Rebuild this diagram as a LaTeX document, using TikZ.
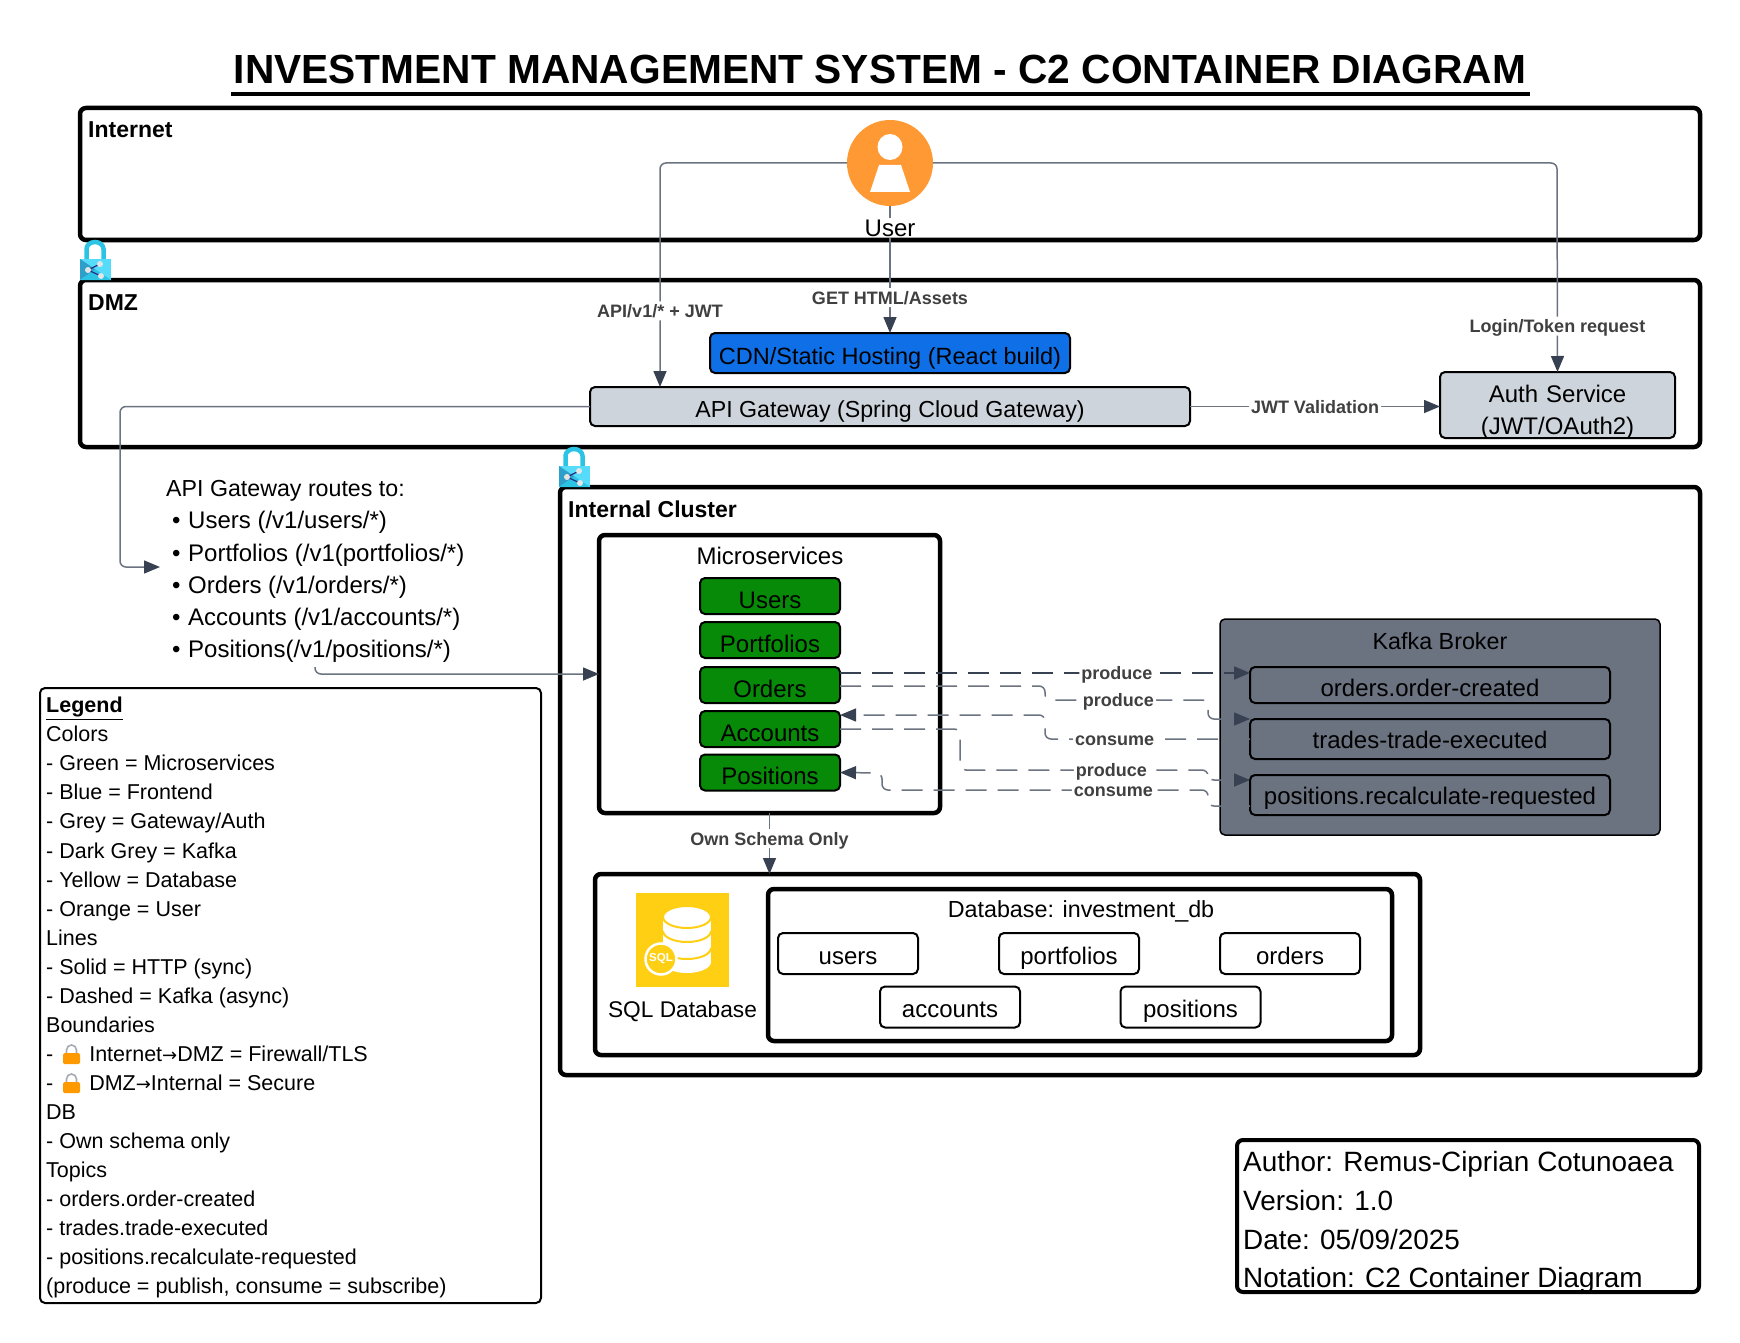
\documentclass[tikz,border=0pt]{standalone}
\usepackage{xcolor}
\usepackage{fontspec}
\setmainfont{Liberation Sans}
\newfontfamily\arrowfont{DejaVu Sans}
\usepackage{tikz}
\usetikzlibrary{shapes,arrows.meta,positioning}

\definecolor{linegrey}{HTML}{6B7280}
\definecolor{tipgrey}{HTML}{374151}
\definecolor{gategrey}{HTML}{CED4DC}
\definecolor{cdnblue}{HTML}{0F6FE6}
\definecolor{svcgreen}{HTML}{078A07}
\definecolor{sqlyellow}{HTML}{FFCF14}
\definecolor{userorange}{HTML}{FF9933}
\definecolor{lockcyan}{HTML}{2CC4E4}
\definecolor{locklight}{HTML}{55DCFA}
\definecolor{lockdark}{HTML}{2E9FC8}

% one lock of the boundary, x y = top left corner
\newcommand{\lockicon}[2]{
  \begin{scope}[shift={(#1,#2)}]
    \draw [line width=4.5pt, color=lockcyan] (6.5,19) -- (6.5,9) arc[start angle=180, end angle=0, x radius=8.5pt, y radius=7pt] -- (23.5,19);
    \fill [locklight] (0,19) rectangle (31,40);
    \fill [lockdark] (0,19) -- (15.5,29.5) -- (0,40) -- cycle;
    \fill [lockcyan] (0,40) -- (15.5,29.5) -- (31,40) -- cycle;
    \draw [tipgrey!70!blue, line width=1.2pt] (8,30) -- (20,24) (8,30) -- (21,36);
    \fill [white!90!black] (8,30) circle (3) (20,24) circle (3) (21,36) circle (3);
  \end{scope}
}
% small orange lock of the legend
\newcommand{\legendlock}[2]{
  \draw [linegrey!60, line width=1.6pt] (#1+3.5,#2+10) -- (#1+3.5,#2+6) arc[start angle=180, end angle=0, x radius=5pt, y radius=5pt] -- (#1+13.5,#2+10);
  \fill [orange!80!yellow, rounded corners=1.5pt] (#1,#2+9) rectangle (#1+17,#2+20);
}

\begin{document}
\begin{tikzpicture}[x=1pt, y=-1pt]
% Define styles
\tikzstyle{zone} = [rectangle, rounded corners=6pt, draw=black, line width=4.5pt, anchor=north west, outer sep=0pt]
\tikzstyle{zonetitle} = [font=\fontsize{23}{27}\selectfont\bfseries, anchor=base west, inner sep=0pt]
\tikzstyle{plain} = [font=\fontsize{23.3}{29}\selectfont, inner sep=0pt]
\tikzstyle{box} = [rectangle, rounded corners=5pt, draw=black, line width=2pt, font=\fontsize{24}{32}\selectfont, inner sep=0pt, outer sep=0pt, text height=24pt, text depth=2pt, text centered]
\tikzstyle{gate} = [box, fill=gategrey]
\tikzstyle{svc} = [box, fill=svcgreen, minimum width=140pt, minimum height=36pt, text height=26pt]
\tikzstyle{topic} = [box, minimum width=360pt, text height=21pt]
\tikzstyle{dbtable} = [box, minimum width=140pt, minimum height=41pt]
\tikzstyle{edgelabel} = [fill=white, font=\fontsize{18}{20}\selectfont\bfseries, text=black!75, inner sep=2pt, text height=14pt, text depth=1pt]
\tikzstyle{arrow} = [draw=linegrey, line width=1.5pt, rounded corners=6pt, -{Stealth[length=16pt, width=13pt, inset=0pt, color=tipgrey]}]
\tikzstyle{plainline} = [draw=linegrey, line width=1.5pt, rounded corners=6pt]
\tikzstyle{kafka} = [arrow, dash pattern=on 21pt off 11pt]

\useasboundingbox (0,0) rectangle (1740,1343);

% Title
\node (title) [font=\fontsize{40.7}{44}\selectfont\bfseries, inner sep=0pt, anchor=base] at (880,84) {INVESTMENT MANAGEMENT SYSTEM - C2 CONTAINER DIAGRAM};
\draw [line width=4pt] (231,94) -- (1530,94);

% Zones
\node (internet) [zone, minimum width=1620pt, minimum height=132pt] at (80,108) {};
\node (dmz) [zone, minimum width=1620pt, minimum height=167pt] at (80,280) {};
\node (cluster) [zone, minimum width=1140pt, minimum height=588pt] at (560,487) {};
\node (internettitle) [zonetitle] at (88,138) {Internet};
\node (dmztitle) [zonetitle] at (88,310) {DMZ};
\node (clustertitle) [zonetitle] at (568,517) {Internal Cluster};
\lockicon{80}{240}
\lockicon{559}{447}

% User
\node (user) [circle, fill=userorange, minimum size=86pt, inner sep=0pt, outer sep=0pt] at (890,163) {};
\fill [white] (890,147) ellipse (12.5 and 13);
\fill [white] (879,165) -- (901,165) -- (910,192) -- (870,192) -- cycle;
\node (userlabel) [plain, fill=white, inner sep=1pt, font=\fontsize{24}{29}\selectfont] at (890,228) {User};

% DMZ nodes
\node (cdn) [box, fill=cdnblue, minimum width=360pt, minimum height=40pt, font=\fontsize{23.5}{32}\selectfont] at (890,353) {CDN/Static Hosting (React build)};
\node (apigw) [gate, minimum width=600pt, minimum height=39pt, font=\fontsize{23.2}{32}\selectfont] at (890,406.5) {API Gateway (Spring Cloud Gateway)};
\node (auth) [gate, minimum width=235pt, minimum height=66pt, text width=235pt, align=center, text depth=30pt] at (1557.5,405) {Auth Service\\(JWT/OAuth2)};

% Routes text
\node (routes) [plain, anchor=north west, align=left, font=\fontsize{24}{32.3}\selectfont] at (166,480) {{\fontsize{23.2}{32.3}\selectfont API Gateway routes to:}\\
\hspace*{6pt}\makebox[16pt][l]{\textbullet}Users (/v1/users/*)\\
\hspace*{6pt}\makebox[16pt][l]{\textbullet}Portfolios (/v1(portfolios/*)\\
\hspace*{6pt}\makebox[16pt][l]{\textbullet}Orders (/v1/orders/*)\\
\hspace*{6pt}\makebox[16pt][l]{\textbullet}Accounts (/v1/accounts/*)\\
\hspace*{6pt}\makebox[16pt][l]{\textbullet}Positions(/v1/positions/*)};
\coordinate (routesin) at (160,567);
\coordinate (routesout) at (315,667);

% Microservices
\node (msbox) [zone, minimum width=341pt, minimum height=278pt] at (599,535) {};
\node (mstitle) [plain, font=\fontsize{24}{29}\selectfont] at (770,556) {Microservices};
\node (users) [svc] at (770,596) {Users};
\node (portfolios) [svc] at (770,640) {Portfolios};
\node (orders) [svc] at (770,685) {Orders};
\node (accounts) [svc] at (770,729) {Accounts};
\node (positions) [svc] at (770,772.5) {Positions};

% Kafka
\node (kafkabox) [rectangle, rounded corners=5pt, draw=black, line width=1.5pt, fill=linegrey, minimum width=440pt, minimum height=216pt, outer sep=0pt] at (1440,727) {};
\node (kafkatitle) [plain] at (1440,641) {Kafka Broker};
\node (ordertopic) [topic, minimum height=36pt, text height=24pt] at (1430,685) {orders.order-created};
\node (tradetopic) [topic, minimum height=40pt] at (1430,739) {trades-trade-executed};
\node (postopic) [topic, minimum height=40pt] at (1430,795) {positions.recalculate-requested};

% Database
\node (sqlbox) [zone, minimum width=825pt, minimum height=181pt] at (595,874) {};
\node (dbbox) [zone, minimum width=624pt, minimum height=152pt] at (768,889) {};
\node (dbtitle) [plain] at (1081,911) {Database: investment\_db};
\node (tusers) [dbtable] at (848,953.5) {users};
\node (tportfolios) [dbtable] at (1069,953.5) {portfolios};
\node (torders) [dbtable] at (1290,953.5) {orders};
\node (taccounts) [dbtable, text height=22pt] at (950,1007) {accounts};
\node (tpositions) [dbtable, text height=22pt] at (1190.5,1007) {positions};
\node (sqlicon) [rectangle, fill=sqlyellow, minimum width=93pt, minimum height=94pt] at (682.5,940) {};
\begin{scope}[shift={(687,917)}]
  \fill [white] (-24,0) rectangle (24,45);
  \fill [white] (0,45) ellipse (24 and 11);
  \draw [sqlyellow, line width=2pt] (-24,14) arc[start angle=180, end angle=360, x radius=24pt, y radius=11pt];
  \draw [sqlyellow, line width=2pt] (-24,31) arc[start angle=180, end angle=360, x radius=24pt, y radius=11pt];
  \fill [white, draw=sqlyellow, line width=2pt] (0,0) ellipse (24 and 11);
\end{scope}
\node (sqlbadge) [circle, draw=white, line width=2.5pt, fill=sqlyellow, minimum size=31pt, inner sep=0pt, text=white, font=\fontsize{11.5}{12}\selectfont\bfseries] at (661,959) {SQL};
\node (sqllabel) [plain, font=\fontsize{22.7}{29}\selectfont] at (682.5,1011) {SQL Database};

% Legend
\node (legend) [rectangle, rounded corners=5pt, draw=black, line width=2pt, anchor=north west, minimum width=501pt, minimum height=615pt, inner sep=0pt, outer sep=0pt] at (40,688) {};
\node (legendtext) [inner sep=0pt, anchor=north west, align=left, font=\fontsize{21.5}{29.05}\selectfont] at (46,697) {\textbf{\underline{Legend}}\\
Colors\\- Green = Microservices\\- Blue = Frontend\\- Grey = Gateway/Auth\\- Dark Grey = Kafka\\- Yellow = Database\\- Orange = User\\
Lines\\- Solid = HTTP (sync)\\- Dashed = Kafka (async)\\
Boundaries\\- \hspace*{24pt} Internet{\arrowfont\fontsize{18}{29}\selectfont →}DMZ = Firewall/TLS\\- \hspace*{24pt} DMZ{\arrowfont\fontsize{18}{29}\selectfont →}Internal = Secure\\
DB\\- Own schema only\\
Topics\\- orders.order-created\\- trades.trade-executed\\- positions.recalculate-requested\\(produce = publish, consume = subscribe)};
\legendlock{63}{1044}
\legendlock{63}{1073}

% Author
\node (author) [rectangle, rounded corners=6pt, draw=black, line width=4pt, anchor=north west, minimum width=462pt, minimum height=152pt, inner sep=0pt, outer sep=0pt] at (1237,1140) {};
\node (authortext) [inner sep=0pt, anchor=north west, align=left, font=\fontsize{27.9}{38.8}\selectfont] at (1243,1151) {Author: Remus-Ciprian Cotunoaea\\Version: 1.0\\Date: 05/09/2025\\Notation: C2 Container Diagram};

% Draw arrows
\draw [arrow] (user.west) -- (660,163) -- node[edgelabel, pos=0.66] {API/v1/* + JWT} (apigw.north -| 660,0);
\draw [arrow] (user.east) -- (1557,163) -- node[edgelabel, pos=0.78] {Login/Token request} (auth.north);
\draw [plainline] (user.south) -- (userlabel.north);
\draw [arrow] (userlabel.south) -- node[edgelabel, pos=0.63] {GET HTML/Assets} (cdn.north);
\draw [arrow] (apigw.east) -- node[edgelabel] {JWT Validation} (apigw.east -| auth.west);
\draw [arrow] (apigw.west) -- (120,406.5) -- (120,567) -- (routesin);
\draw [arrow] (routesout) -- (315,674) -- (msbox.west |- 0,674);
\draw [arrow] (msbox.south) -- node[edgelabel, pos=0.42] {Own Schema Only} (sqlbox.north -| msbox.south);

\draw [kafka, draw=tipgrey, line width=2pt] ([yshift=12pt]orders.east) -- node[edgelabel, pos=0.675] {produce} ([yshift=-6pt]ordertopic.north west);
\draw [kafka] ([yshift=-1pt]orders.east) -- (1045,686) -- (1045,700) -- node[edgelabel, pos=0.45] {produce} (1208,700) -- (1208,719) -- (tradetopic.north west);
\draw [kafka] (tradetopic.west) -- node[edgelabel, pos=0.66] {consume} (1045,739) -- (1045,715) -- ([yshift=14pt]accounts.east);
\draw [kafka] (accounts.east) -- (960,729) -- (960,770) -- node[edgelabel, pos=0.61] {produce} (1208,770) -- (1208,780) -- ([yshift=15pt]postopic.west);
\draw [kafka, dash phase=14pt] ([yshift=-11pt]postopic.west) -- (1208,806) -- (1208,790) -- node[edgelabel, pos=0.29] {consume} (882,790) -- (882,773) -- (positions.east);
\end{tikzpicture}
\end{document}
